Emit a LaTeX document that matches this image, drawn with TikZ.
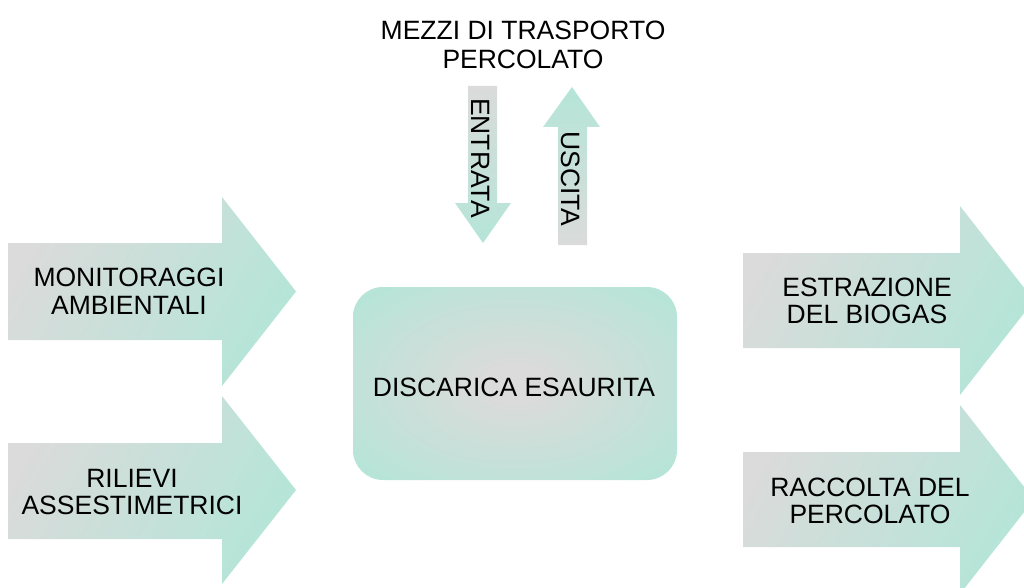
\documentclass[tikz,border=0pt]{standalone}
\usepackage{fontspec}
\setmainfont{Liberation Sans}
\definecolor{tealc}{RGB}{181,229,216}
\definecolor{grayc}{RGB}{218,219,218}
\pgfdeclareradialshading{boxglow}{\pgfpoint{0bp}{0bp}}{color(0bp)=(grayc); color(5bp)=(grayc); color(34bp)=(tealc); color(100bp)=(tealc)}
\tikzset{
  hshade/.style={top color=grayc, bottom color=tealc, shading angle=60},
  downshade/.style={top color=grayc, bottom color=tealc},
  upshade/.style={top color=tealc, bottom color=grayc},
  lbl/.style={align=center, text=black, inner sep=0pt, font=\fontsize{26.5}{27.5}\selectfont},
}
\begin{document}
\begin{tikzpicture}[x=1pt,y=-1pt]
\useasboundingbox (0,0) rectangle (1024,588);
\clip (0,0) rectangle (1024,588);
% left arrows
\shade[hshade] (8,243) -- (222,243) -- (222,197) -- (296,291.5) -- (222,386) -- (222,340) -- (8,340) -- cycle;
\shade[hshade] (8,443) -- (222,443) -- (222,396) -- (296,490) -- (222,584) -- (222,539) -- (8,539) -- cycle;
% right arrows
\shade[hshade] (743,253) -- (960,253) -- (960,206) -- (1034,300.5) -- (960,395) -- (960,348) -- (743,348) -- cycle;
\shade[hshade] (743,452) -- (960,452) -- (960,405) -- (1034,499.5) -- (960,594) -- (960,547) -- (743,547) -- cycle;
% vertical arrows
\shade[downshade] (468,86) -- (497,86) -- (497,203) -- (511,203) -- (483,243) -- (455,203) -- (468,203) -- cycle;
\shade[upshade] (572,87) -- (600,127) -- (587,127) -- (587,245) -- (558,245) -- (558,127) -- (543,127) -- cycle;
% central box
\shade[shading=boxglow, rounded corners=30pt] (353,287) rectangle (677,480);
% labels
\node[lbl] (mon) at (129,291) {MONITORAGGI\\AMBIENTALI};
\node[lbl] (ril) at (132,492) {RILIEVI\\ASSESTIMETRICI};
\node[lbl] (est) at (867,301) {ESTRAZIONE\\DEL BIOGAS};
\node[lbl] (rac) at (870,501) {RACCOLTA DEL\\PERCOLATO};
\node[lbl] (dis) at (514,387) {DISCARICA ESAURITA};
\node[lbl, font=\fontsize{26.5}{29}\selectfont] (mez) at (523,45) {MEZZI DI TRASPORTO\\PERCOLATO};
\node[lbl, rotate=-90] (ent) at (481,158) {ENTRATA};
\node[lbl, rotate=-90] (usc) at (571,179) {USCITA};
\end{tikzpicture}
\end{document}
